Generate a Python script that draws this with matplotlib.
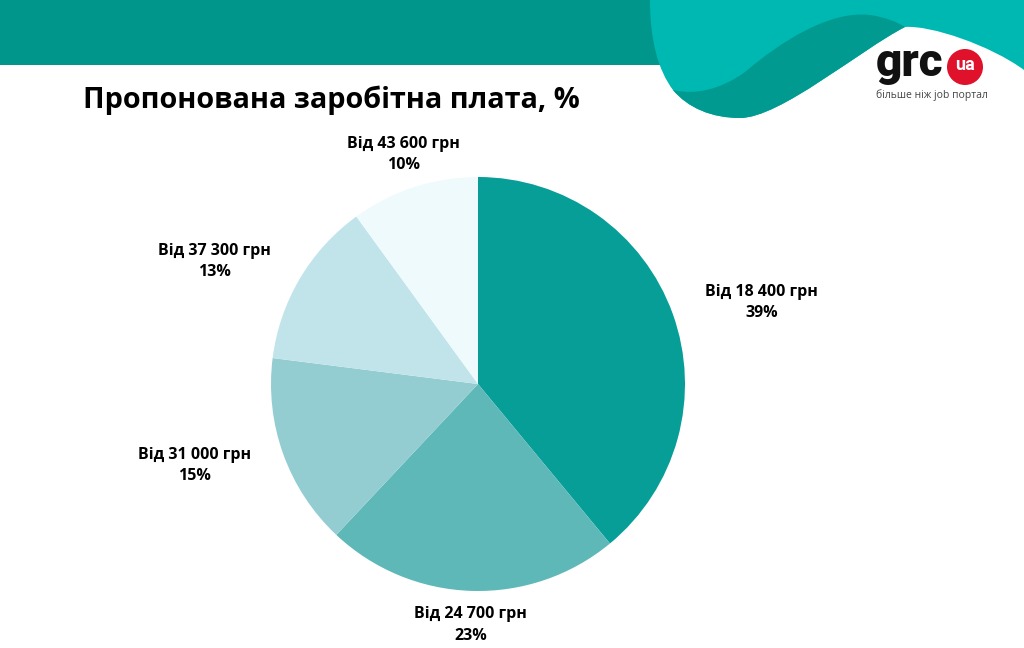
import numpy as np
import matplotlib.pyplot as plt
from matplotlib.patches import PathPatch, Circle, Rectangle
from matplotlib.path import Path

plt.rcParams['font.family'] = ['Open Sans', 'DejaVu Sans']

# data
labels = ['Від 18 400 грн', 'Від 24 700 грн', 'Від 31 000 грн', 'Від 37 300 грн', 'Від 43 600 грн']
shares = [39, 23, 15, 13, 10]
colors = ['#089e98', '#5fb8b8', '#93cdd2', '#c1e4ea', '#effafd']

W, H = 1024, 648
fig = plt.figure(figsize=(W / 100, H / 100), dpi=100)
fig.patch.set_facecolor('white')

# background decoration in pixel coordinates
bg = fig.add_axes([0, 0, 1, 1])
bg.set_xlim(0, W)
bg.set_ylim(H, 0)
bg.axis('off')

M, C, L, Z = Path.MOVETO, Path.CURVE4, Path.LINETO, Path.CLOSEPOLY
bg.add_patch(Rectangle((0, 0), 660, 65, color='#00968c', lw=0))
blob = Path([(650, 0),
             (650, 40), (658, 70), (673, 90),
             (688, 108), (712, 118), (740, 118),
             (780, 118), (860, 50), (905, 27),
             (930, 25), (990, 45), (1024, 70),
             (1024, 0), (650, 0)],
            [M, C, C, C, C, C, C, C, C, C, C, C, C, L, Z])
bg.add_patch(PathPatch(blob, color='#00b8b2', lw=0))
band = Path([(673, 90),
             (688, 108), (712, 118), (740, 118),
             (780, 118), (860, 50), (905, 27),
             (897, 22), (885, 17), (870, 15),
             (830, 10), (780, 42), (745, 72),
             (720, 90), (695, 95), (673, 90),
             (673, 90)],
            [M, C, C, C, C, C, C, C, C, C, C, C, C, C, C, C, Z])
bg.add_patch(PathPatch(band, color='#009a90', lw=0))

# logo
bg.text(876, 76, 'grc', fontsize=33, fontweight='heavy', family=['Roboto', 'DejaVu Sans'],
        color='#111111', ha='left', va='baseline')
bg.add_patch(Circle((965, 67), 18, color='#e0112b', lw=0))
bg.text(965, 65, 'ua', fontsize=13, fontweight='bold', family=['Roboto', 'DejaVu Sans'],
        color='white', ha='center', va='center')
bg.text(876, 95, 'більше ніж job портал', fontsize=7.5, color='#444444',
        ha='left', va='center')

bg.text(83, 100, 'Пропонована заробітна плата, %', fontsize=20.8, fontweight='bold',
        color='black', ha='left', va='center')

# pie
cx, cy, r = 478, 384, 207
ax = fig.add_axes([(cx - r) / W, (H - cy - r) / H, 2 * r / W, 2 * r / H])
wedges, _ = ax.pie(shares, colors=colors, startangle=90, counterclock=False,
                   radius=1, wedgeprops=dict(linewidth=0))
ax.set_xlim(-1, 1)
ax.set_ylim(-1, 1)
ax.set_aspect('auto')

for w, lab, s in zip(wedges, labels, shares):
    ang = np.deg2rad((w.theta1 + w.theta2) / 2)
    x, y = 1.165 * np.cos(ang), 1.165 * np.sin(ang)
    ha = 'left' if x > 0.5 else ('right' if x < -0.5 else 'center')
    ax.text(x, y, '{}\n{}%'.format(lab, s), ha=ha, va='center', multialignment='center',
            fontsize=11.5, fontweight='bold', linespacing=1.45, clip_on=False)

fig.savefig('out.png', dpi=100)
